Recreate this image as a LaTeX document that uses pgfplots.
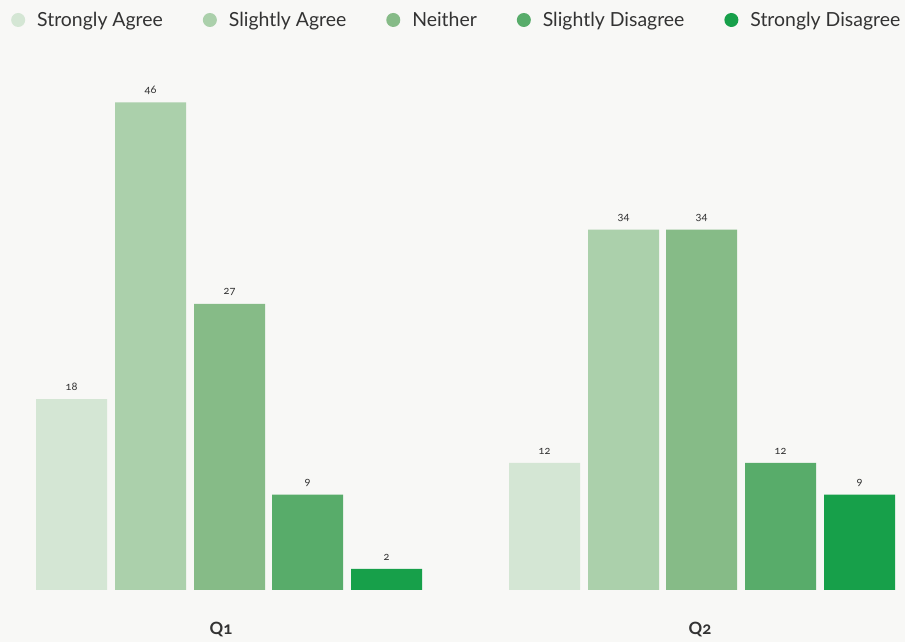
\documentclass[border=0pt]{standalone}
\usepackage{pgfplots}
\pgfplotsset{compat=1.18}
\usepackage{fontspec}
\setmainfont{Lato}[Numbers=OldStyle]
\definecolor{bgc}{HTML}{F8F8F6}
\definecolor{cA}{HTML}{D4E6D4}
\definecolor{cB}{HTML}{ABD0AB}
\definecolor{cC}{HTML}{86BB87}
\definecolor{cD}{HTML}{58AC6A}
\definecolor{cE}{HTML}{17A04A}
\definecolor{txt}{HTML}{333333}
\begin{document}
\begin{tikzpicture}
\useasboundingbox (0,0) rectangle (905bp,642bp);
\fill[bgc] (0,0) rectangle (905bp,642bp);
\begin{axis}[
  at={(0,52bp)}, anchor=south west,
  scale only axis, width=905bp, height=530bp,
  xmin=0, xmax=905, ymin=0, ymax=50,
  /pgf/number format/assume math mode=true,
  ybar, bar width=71, bar shift=0pt,
  axis line style={draw=none}, tick style={draw=none},
  ytick=\empty,
  xtick={221,700}, xticklabels={Q1,Q2},
  xticklabel style={font=\fontsize{17}{20}\selectfont\bfseries, text=txt, yshift=-24bp},
  nodes near coords,
  nodes near coords style={font=\fontsize{11}{13}\selectfont, text=txt, inner sep=0pt, anchor=south, yshift=8bp},
  legend columns=5,
  legend image code/.code={\fill[#1,draw=none] (7bp,0) circle (7bp);},
  legend style={draw=none, fill=none, at={(axis description cs:0,1.0755)}, anchor=west, xshift=8bp,
    font=\fontsize{19.5}{22}\selectfont, text=txt,
    /tikz/every odd column/.append style={column sep=10bp},
    /tikz/every even column/.append style={column sep=38bp}},
]
\addplot[fill=cA, draw=none] coordinates {(71.5,18) (544.5,12)};
\addplot[fill=cB, draw=none] coordinates {(150.5,46) (623.5,34)};
\addplot[fill=cC, draw=none] coordinates {(229.5,27) (701.5,34)};
\addplot[fill=cD, draw=none] coordinates {(307.5,9) (780.5,12)};
\addplot[fill=cE, draw=none] coordinates {(386.5,2) (859.5,9)};
\legend{Strongly Agree, Slightly Agree, Neither, Slightly Disagree, Strongly Disagree}
\end{axis}
\end{tikzpicture}
\end{document}
